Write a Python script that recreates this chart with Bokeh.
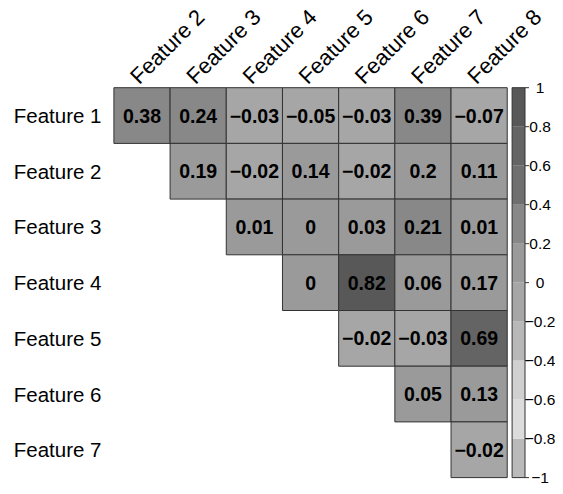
import math
from bokeh.plotting import figure
from bokeh.models import ColumnDataSource, LinearColorMapper, Range1d
from bokeh.transform import transform
from bokeh.core.properties import value
from bokeh.embed import file_html
from bokeh.resources import INLINE

# ---------------- data ----------------
row_labels = ["Feature 1", "Feature 2", "Feature 3", "Feature 4",
              "Feature 5", "Feature 6", "Feature 7"]
col_labels = ["Feature 2", "Feature 3", "Feature 4", "Feature 5",
              "Feature 6", "Feature 7", "Feature 8"]
# upper triangle: row i holds correlations with Feature i+2 .. Feature 8
corr_rows = [
    [0.38, 0.24, -0.03, -0.05, -0.03, 0.39, -0.07],
    [0.19, -0.02, 0.14, -0.02, 0.2, 0.11],
    [0.01, 0, 0.03, 0.21, 0.01],
    [0, 0.82, 0.06, 0.17],
    [-0.02, -0.03, 0.69],
    [0.05, 0.13],
    [-0.02],
]
bar_ticks = [1, 0.8, 0.6, 0.4, 0.2, 0, -0.2, -0.4, -0.6, -0.8, -1]
bar_tick_labels = ["1", "0.8", "0.6", "0.4", "0.2", "0",
                   "\u22120.2", "\u22120.4", "\u22120.6", "\u22120.8", "\u22121"]
# grey palette, from -1 (first) to +1 (last), ten steps of 0.2
palette = ["#bababa", "#dcdcdc", "#d0d0d0", "#b8b8b8", "#a6a6a6",
           "#9a9a9a", "#888888", "#6f6f6f", "#646464", "#585858"]

FONT = "Liberation Sans"

def fmt(v):
    return f"{v:g}".replace("-", "\u2212")

# ---------------- figure ----------------
W, H = 555, 486
CX, CY = 56.19, 55.7            # pixels per cell
LEFT, TOP = 113.4, 87.2          # pixel position of the grid's top-left corner
x0 = -0.5 - LEFT / CX
y1 = 0.5 + TOP / CY

def px_x(px):
    return x0 + px / CX

def px_y(px):
    return y1 - px / CY

p = figure(width=W, height=H, output_backend="svg", toolbar_location=None,
           x_range=Range1d(x0, x0 + W / CX), y_range=Range1d(y1 - H / CY, y1),
           min_border=0, x_axis_location=None, y_axis_location=None,
           outline_line_color=None)
p.grid.visible = False
p.background_fill_color = "white"

mapper = LinearColorMapper(palette=palette, low=-1, high=1)

xs, ys, vs, txt = [], [], [], []
for i, row in enumerate(corr_rows):
    for k, v in enumerate(row):
        xs.append(i + k)
        ys.append(-i)
        vs.append(v)
        txt.append(fmt(v))
cells = ColumnDataSource(dict(x=xs, y=ys, v=vs, t=txt))
p.rect("x", "y", width=1, height=1, source=cells,
       fill_color=transform("v", mapper), line_color="#333333", line_width=1)
p.text("x", "y", text="t", source=cells, text_align="center",
       text_baseline="middle", text_font=value(FONT), text_font_size="19.5px",
       text_font_style="bold", text_color="black")

# row labels
rl = ColumnDataSource(dict(x=[px_x(101)] * len(row_labels),
                           y=[-i for i in range(len(row_labels))], t=row_labels))
p.text("x", "y", text="t", source=rl, text_align="right", text_baseline="middle",
       text_font=value(FONT), text_font_size="20.5px", text_color="black")

# column labels (rotated)
cl = ColumnDataSource(dict(x=[j - 8.0 / CX for j in range(len(col_labels))],
                           y=[px_y(79.5)] * len(col_labels), t=col_labels))
p.text("x", "y", text="t", source=cl, angle=math.pi / 4, text_align="left",
       text_baseline="middle", text_font=value(FONT), text_font_size="22px",
       text_color="black")

# colour bar
bx0, bx1 = px_x(511.6), px_x(524.5)

def vy(v):
    return -6.5 + (v + 1) / 2 * 7

lows = sorted(bar_ticks)[:-1]
bars = ColumnDataSource(dict(b=[vy(v) for v in lows], t=[vy(v + 0.2) for v in lows],
                             m=[v + 0.1 for v in lows]))
p.quad(left=bx0, right=bx1, bottom="b", top="t", source=bars,
       fill_color=transform("m", mapper), line_color=None)
p.quad(left=[bx0], right=[bx1], bottom=[vy(-1)], top=[vy(1)], fill_color=None,
       line_color="#333333", line_width=1)
ticks = ColumnDataSource(dict(y=[vy(v) for v in bar_ticks], t=bar_tick_labels))
p.segment(x0=bx1, x1=bx1 + 4 / CX, y0="y", y1="y", source=ticks,
          line_color="#333333", line_width=1)
p.text(x=px_x(539.6), y="y", text="t", source=ticks, text_align="center",
       text_baseline="middle", text_font=value(FONT), text_font_size="15.5px",
       text_color="black")

open("out.html", "w").write(file_html(p, INLINE))
